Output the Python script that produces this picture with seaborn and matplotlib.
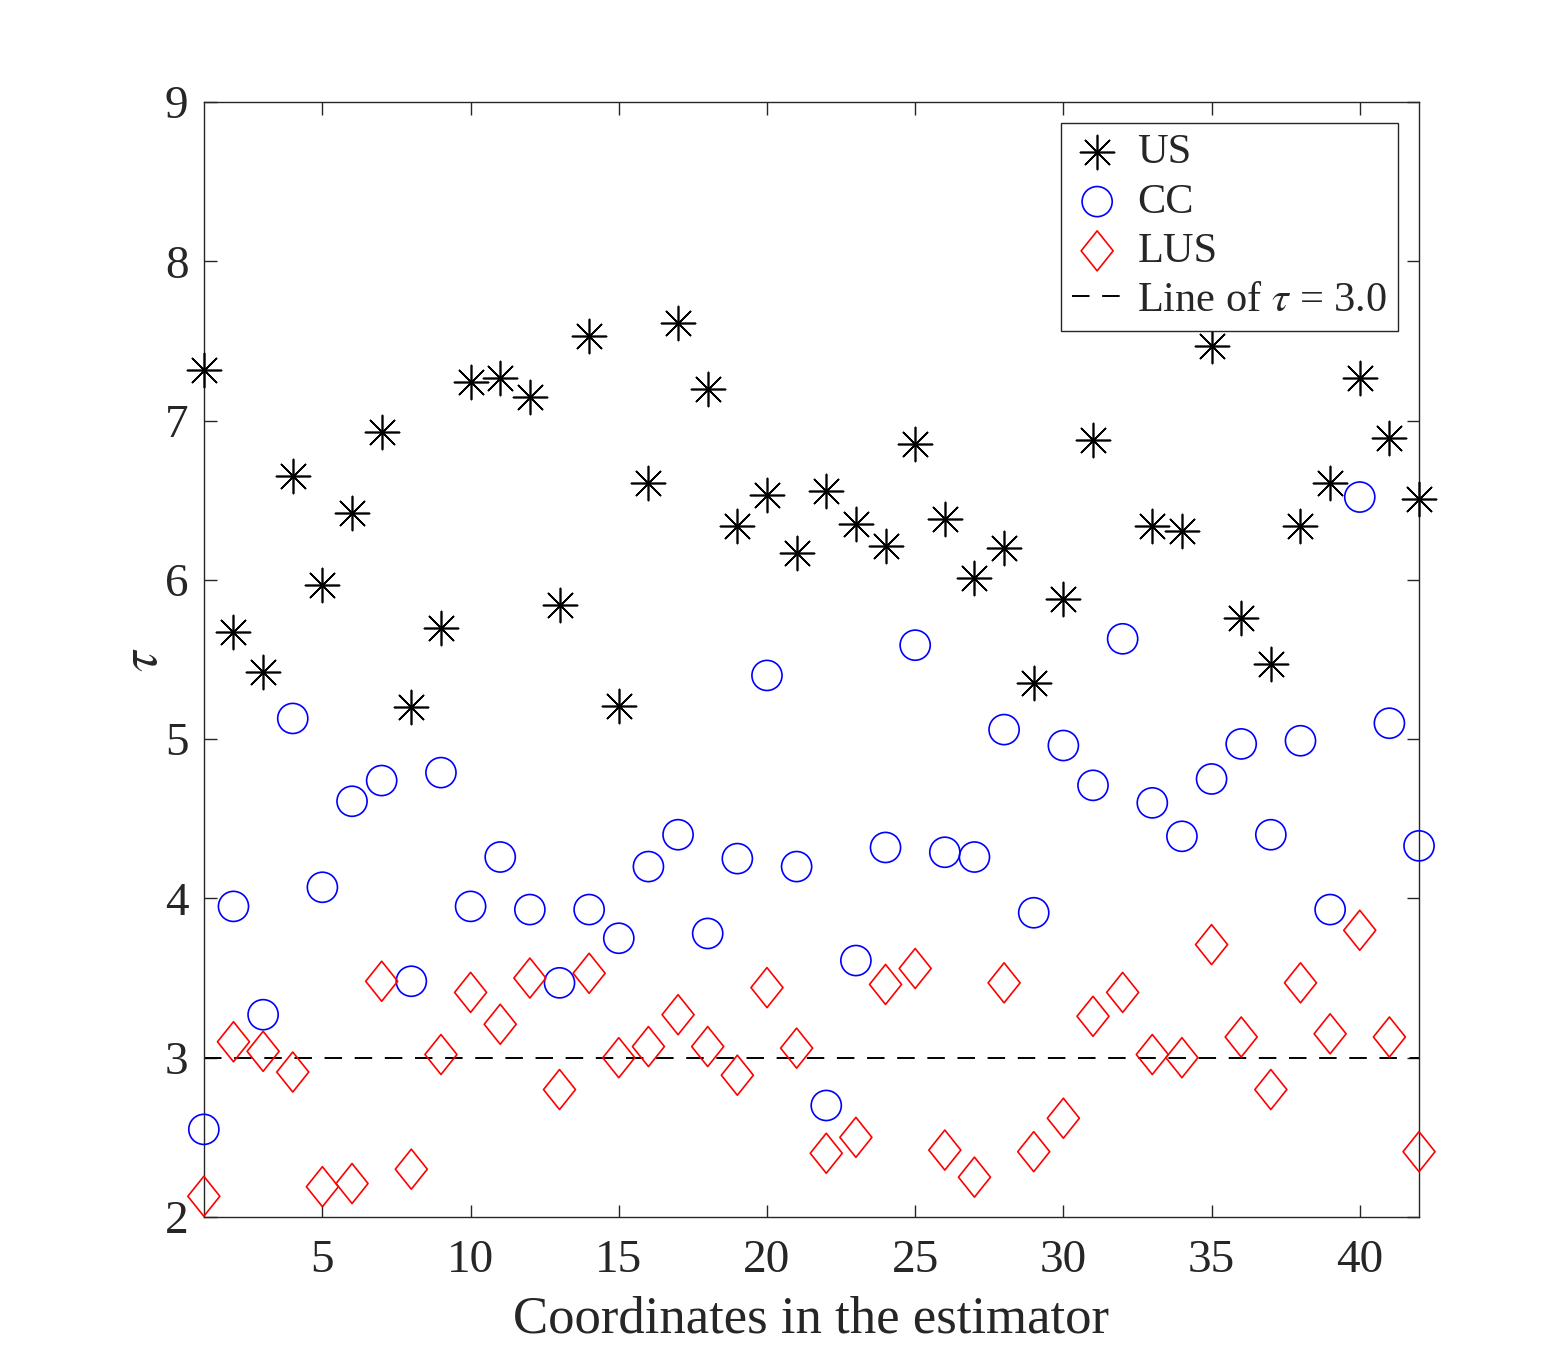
import numpy as np
import pandas as pd
import matplotlib
matplotlib.use("Agg")
import matplotlib.pyplot as plt
import seaborn as sns
from matplotlib.path import Path

# Data

coords = list(range(1, 43))

us = [7.32, 5.67, 5.42, 6.65, 5.97, 6.42, 6.93, 5.20, 5.70, 7.24,
      7.27, 7.15, 5.84, 7.53, 5.21, 6.61, 7.61, 7.20, 6.34, 6.53,
      6.17, 6.56, 6.35, 6.21, 6.85, 6.38, 6.01, 6.20, 5.35, 5.88,
      6.88, 8.20, 6.34, 6.31, 7.47, 5.76, 5.47, 6.34, 6.61, 7.27,
      6.89, 6.51]

cc = [2.55, 3.95, 3.27, 5.13, 4.07, 4.61, 4.74, 3.48, 4.79, 3.95,
      4.26, 3.93, 3.47, 3.93, 3.75, 4.20, 4.40, 3.78, 4.25, 5.40,
      4.20, 2.70, 3.61, 4.32, 5.59, 4.29, 4.26, 5.06, 3.91, 4.96,
      4.71, 5.63, 4.60, 4.39, 4.75, 4.97, 4.40, 4.99, 3.93, 6.52,
      5.10, 4.33]

lus = [2.13, 3.10, 3.04, 2.91, 2.19, 2.21, 3.48, 2.30, 3.02, 3.41,
       3.21, 3.50, 2.80, 3.53, 3.00, 3.07, 3.27, 3.07, 2.89, 3.44,
       3.06, 2.40, 2.50, 3.46, 3.56, 2.42, 2.25, 3.47, 2.41, 2.62,
       3.26, 3.41, 3.02, 3.00, 3.71, 3.13, 2.80, 3.47, 3.15, 3.80,
       3.13, 2.41]

tau_line = 3.0
xticks = [5, 10, 15, 20, 25, 30, 35, 40]
yticks = [2, 3, 4, 5, 6, 7, 8, 9]

df = pd.DataFrame({"coord": coords, "US": us, "CC": cc, "LUS": lus})

# Style

sns.set_style("ticks")
plt.rcParams["font.family"] = ["Liberation Serif", "DejaVu Serif"]
plt.rcParams["mathtext.fontset"] = "stix"

diamond = Path([(0, 1), (0.8, 0), (0, -1), (-0.8, 0), (0, 1)],
               [Path.MOVETO, Path.LINETO, Path.LINETO, Path.LINETO, Path.CLOSEPOLY])

fig = plt.figure(figsize=(15.68, 13.68), dpi=100)
ax = fig.add_axes([0.13, 0.1104, 0.775, 0.815])

sns.scatterplot(data=df, x="coord", y="US", ax=ax, marker=(8, 2, 0), s=600,
                color="black", linewidth=1.2, label="US", clip_on=False, zorder=3)
sns.scatterplot(data=df, x="coord", y="CC", ax=ax, marker="o", s=470,
                facecolor="none", edgecolor="#0000ff", linewidth=1.2, label="CC",
                clip_on=False, zorder=3)
sns.scatterplot(data=df, x="coord", y="LUS", ax=ax, marker=diamond, s=830,
                facecolor="none", edgecolor="#ff0000", linewidth=1.2, label="LUS",
                clip_on=False, zorder=3)
ax.plot([coords[0], coords[-1]], [tau_line, tau_line], color="black", lw=1.4,
        ls=(0, (9, 6.5)), label=r"Line of $\tau$ = 3.0", zorder=2)

ax.set_xlim(coords[0], coords[-1])
ax.set_ylim(2, 9)
ax.set_xticks(xticks)
ax.set_yticks(yticks)

for s in ax.spines.values():
    s.set_visible(True)
    s.set_color("#262626")
    s.set_linewidth(1.0)

ax.tick_params(direction="in", top=True, right=True, length=9, width=1.0,
               labelsize=34, colors="#262626")
ax.tick_params(axis="x", pad=16)
ax.tick_params(axis="y", pad=11)

ax.set_xlabel("Coordinates in the estimator", fontsize=38, color="#262626", labelpad=10)
ax.set_ylabel(r"$\tau$", fontsize=38, color="#262626", labelpad=-2)

leg = ax.legend(loc="upper right", fontsize=30.5, frameon=True, fancybox=False,
                edgecolor="#262626", framealpha=1, borderaxespad=0.5,
                handletextpad=0.35, labelspacing=0.25, borderpad=0.25,
                handlelength=1.2, markerscale=1.0)
leg.get_frame().set_linewidth(1.0)
leg.set_zorder(5)

plt.savefig("out.png", dpi=100)
plt.close()
